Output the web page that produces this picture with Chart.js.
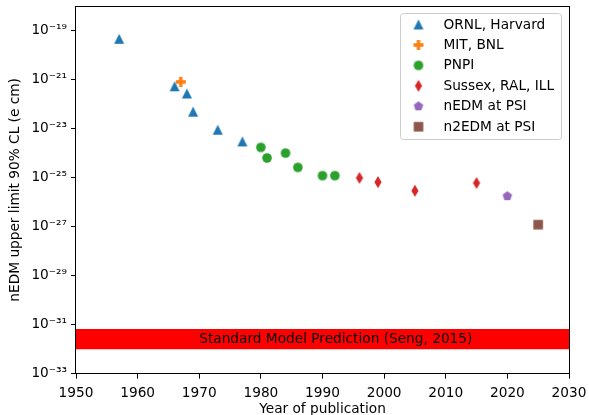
<!DOCTYPE html>
<html><head><meta charset="utf-8">
<script src="https://cdn.jsdelivr.net/npm/chart.js@4.4.1/dist/chart.umd.min.js"></script>
<style>html,body{margin:0;padding:0;background:#fff}canvas{display:block}</style>
</head><body><canvas id="c" width="589" height="415"></canvas>
<script>
// ---- data ----
const ornlYears   = [1957, 1966, 1968, 1969, 1973, 1977];
const ornlLimits  = [4.6e-20, 5.3e-22, 2.7e-22, 4.9e-23, 9e-24, 3e-24];
const mitYears    = [1967];
const mitLimits   = [8e-22];
const pnpiYears   = [1980, 1981, 1984, 1986, 1990, 1992];
const pnpiLimits  = [1.7e-24, 6.3e-25, 1e-24, 2.6e-25, 1.2e-25, 1.2e-25];
const sussexYears = [1996, 1999, 2005, 2015];
const sussexLimits= [9.7e-26, 6.5e-26, 2.9e-26, 6e-26];
const nedmYears   = [2020];
const nedmLimits  = [1.75e-26];
const n2edmYears  = [2025];
const n2edmLimits = [1.2e-27];
const seriesNames = ['ORNL, Harvard', 'MIT, BNL', 'PNPI', 'Sussex, RAL, ILL', 'nEDM at PSI', 'n2EDM at PSI'];
const smBandLow   = 1e-32;
const smBandHigh  = 6.6e-32;
const smLabel     = 'Standard Model Prediction (Seng, 2015)';
const smLabelX    = 1970;
const smLabelY    = 2.4e-32;
const xTickValues = [1950, 1960, 1970, 1980, 1990, 2000, 2010, 2020, 2030];
const yTickValues = [1e-33, 1e-31, 1e-29, 1e-27, 1e-25, 1e-23, 1e-21, 1e-19];
const yTickLabels = ['10⁻³³', '10⁻³¹', '10⁻²⁹', '10⁻²⁷', '10⁻²⁵', '10⁻²³', '10⁻²¹', '10⁻¹⁹'];
const xTitle = 'Year of publication';
const yTitle = 'nEDM upper limit 90% CL (e cm)';

const FONT = '"DejaVu Sans", sans-serif';
const FS = 13.7;

function marker(shape, color, size) {
  const S = 16, cv = document.createElement('canvas');
  cv.width = S; cv.height = S;
  const g = cv.getContext('2d');
  g.fillStyle = color; g.translate(S / 2, S / 2); g.beginPath();
  const h = size / 2;
  if (shape === 'tri') { g.moveTo(0, -h); g.lineTo(h, h); g.lineTo(-h, h); }
  else if (shape === 'plus') {
    const a = h / 3;
    g.moveTo(-a, -h); g.lineTo(a, -h); g.lineTo(a, -a); g.lineTo(h, -a); g.lineTo(h, a); g.lineTo(a, a);
    g.lineTo(a, h); g.lineTo(-a, h); g.lineTo(-a, a); g.lineTo(-h, a); g.lineTo(-h, -a); g.lineTo(-a, -a);
  }
  else if (shape === 'circle') { g.arc(0, 0, h, 0, Math.PI * 2); }
  else if (shape === 'thin') { g.moveTo(0, -h); g.lineTo(h * 0.6, 0); g.lineTo(0, h); g.lineTo(-h * 0.6, 0); }
  else if (shape === 'pent') { for (let i = 0; i < 5; i++) { const t = -Math.PI / 2 + i * 2 * Math.PI / 5; g.lineTo(h * Math.cos(t), h * Math.sin(t)); } }
  else if (shape === 'square') { g.rect(-h, -h, 2 * h, 2 * h); }
  g.closePath(); g.fill();
  return cv;
}

const colors = ['#1f77b4', '#ff7f0e', '#2ca02c', '#d62728', '#9467bd', '#8c564b'];
const shapes = [['tri', 10], ['plus', 10], ['circle', 9.6], ['thin', 12], ['pent', 10], ['square', 9.6]];
const xs = [ornlYears, mitYears, pnpiYears, sussexYears, nedmYears, n2edmYears];
const ys = [ornlLimits, mitLimits, pnpiLimits, sussexLimits, nedmLimits, n2edmLimits];

const datasets = [
  { type: 'line', label: '_bandlow', data: [{x: 1950, y: smBandLow}, {x: 2030, y: smBandLow}], borderWidth: 0, pointRadius: 0, fill: false, order: 10 },
  { type: 'line', label: '_bandhigh', data: [{x: 1950, y: smBandHigh}, {x: 2030, y: smBandHigh}], borderWidth: 0, pointRadius: 0, fill: '-1', backgroundColor: '#ff0000', order: 10 }
];
seriesNames.forEach((name, i) => {
  datasets.push({
    type: 'scatter', label: name, isSeries: true,
    data: xs[i].map((x, j) => ({x: x, y: ys[i][j]})),
    pointStyle: marker(shapes[i][0], colors[i], shapes[i][1]),
    pointRadius: 5, pointHoverRadius: 5, backgroundColor: colors[i], borderColor: colors[i], order: 1
  });
});

const extras = {
  id: 'extras',
  afterDatasetsDraw(chart) {
    const ctx = chart.ctx, xS = chart.scales.x, yS = chart.scales.y;
    ctx.save();
    ctx.font = FS + 'px ' + FONT; ctx.fillStyle = '#000';
    ctx.textAlign = 'left'; ctx.textBaseline = 'middle';
    ctx.fillText(smLabel, xS.getPixelForValue(smLabelX), yS.getPixelForValue(smLabelY));
    ctx.restore();
  },
  afterDraw(chart) {
    const ctx = chart.ctx, a = chart.chartArea;
    ctx.save();
    ctx.strokeStyle = '#000'; ctx.lineWidth = 1;
    ctx.strokeRect(Math.round(a.left) - 0.5, Math.round(a.top) + 0.5, Math.round(a.right) - Math.round(a.left) + 1, Math.round(a.bottom) - Math.round(a.top) - 1);
    // legend
    const bw = 161, bh = 126, bx = Math.round(a.right) - 7.5 - bw, by = Math.round(a.top) + 7.5;
    ctx.beginPath();
    if (ctx.roundRect) ctx.roundRect(bx, by, bw, bh, 3); else ctx.rect(bx, by, bw, bh);
    ctx.fillStyle = 'rgba(255,255,255,0.8)'; ctx.fill();
    ctx.strokeStyle = '#cccccc'; ctx.stroke();
    ctx.font = FS + 'px ' + FONT; ctx.fillStyle = '#000'; ctx.textAlign = 'left'; ctx.textBaseline = 'middle';
    const items = chart.data.datasets.filter(d => d.isSeries);
    items.forEach((d, i) => {
      const yy = by + 11 + i * 20.45;
      const img = d.pointStyle;
      ctx.drawImage(img, bx + 18 - img.width / 2, yy - img.height / 2);
      ctx.fillStyle = '#000';
      ctx.fillText(d.label, bx + 43, yy + 0.5);
    });
    ctx.restore();
  }
};

new Chart(document.getElementById('c'), {
  data: { datasets: datasets },
  options: {
    responsive: false, animation: false, devicePixelRatio: 1,
    layout: { padding: { top: 6, right: 20, left: 0, bottom: 0 } },
    plugins: { legend: { display: false }, tooltip: { enabled: false } },
    scales: {
      x: {
        type: 'linear', min: 1950, max: 2030,
        afterBuildTicks: s => { s.ticks = xTickValues.map(v => ({value: v})); },
        afterFit: s => { s.height = 41.3; s.paddingLeft = 0; s.paddingRight = 0; },
        grid: { display: true, drawOnChartArea: false, drawTicks: true, tickLength: 5, color: '#000', tickWidth: 1 },
        border: { display: false },
        ticks: { font: { family: FONT, size: FS }, color: '#000', padding: 7, maxRotation: 0, autoSkip: false, callback: v => String(v) },
        title: { display: true, text: xTitle, font: { family: FONT, size: FS, lineHeight: 1.2 }, color: '#000', padding: { top: 0, bottom: -2.5 } }
      },
      y: {
        type: 'logarithmic', min: 1e-33, max: 1e-18,
        afterBuildTicks: s => { s.ticks = yTickValues.map(v => ({value: v})); },
        afterFit: s => { s.width = 76; s.paddingTop = 0; s.paddingBottom = 0; },
        grid: { display: true, drawOnChartArea: false, drawTicks: true, tickLength: 5, color: '#000', tickWidth: 1 },
        border: { display: false },
        ticks: { font: { family: FONT, size: FS }, color: '#000', padding: 4, autoSkip: false, callback: (v, i) => yTickLabels[i] },
        title: { display: true, text: yTitle, font: { family: FONT, size: FS, lineHeight: 1.2 }, color: '#000', padding: { top: 7, bottom: 0 } }
      }
    }
  },
  plugins: [extras]
});
</script>
</body></html>
